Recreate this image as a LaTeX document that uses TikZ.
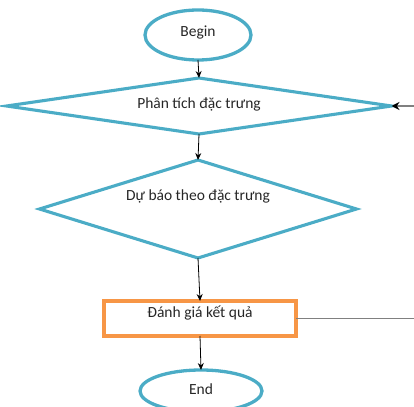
\documentclass[tikz,border=0pt]{standalone}
\usepackage{fontspec}
\setmainfont{Carlito}
\usetikzlibrary{shapes.geometric,arrows.meta}
\definecolor{accblue}{RGB}{75,172,198}
\definecolor{accorange}{RGB}{247,150,70}
\definecolor{lgray}{RGB}{128,128,128}
\begin{document}
\begin{tikzpicture}[x=1pt,y=-1pt,
  term/.style={ellipse,draw=accblue,line width=3.3pt,inner sep=0pt,outer sep=0pt},
  decide/.style={diamond,draw=accblue,line width=3.1pt,inner sep=0pt,outer sep=0pt},
  proc/.style={rectangle,draw=accorange,line width=3.1pt,inner sep=0pt,outer sep=0pt},
  lbl/.style={font=\fontsize{15.5}{17}\selectfont,text=black!85,inner sep=0pt},
  flow/.style={-{Stealth[length=7pt,width=6pt]},line width=0.8pt,black}
]
\useasboundingbox (0,0) rectangle (414,406);
\node[term,minimum width=106pt,minimum height=50pt] (begin) at (198,35) {};
\node[lbl] (tbegin) at (198,33) {Begin};
\node[decide,minimum width=385pt,minimum height=56pt] (d1) at (199,106) {};
\node[lbl] (td1) at (199,104) {Phân tích đặc trưng};
\node[decide,minimum width=317pt,minimum height=98pt] (d2) at (198,209) {};
\node[lbl] (td2) at (198,196) {Dự báo theo đặc trưng};
\node[proc,minimum width=192pt,minimum height=35pt] (eval) at (200,318.5) {};
\node[lbl] (teval) at (200,313) {Đánh giá kết quả};
\node[term,minimum width=122pt,minimum height=42pt] (end) at (201,391) {};
\node[lbl] (tend) at (201,389) {End};
\coordinate (c1) at (430,318.5);
\coordinate (c2) at (430,106);
\draw[flow] (begin.south) -- (d1.north);
\draw[flow] (d1.south) -- (d2.north);
\draw[flow] (d2.south) -- (eval.north);
\draw[flow] (eval.south) -- (end.north);
\draw[line width=1.4pt,lgray,-{Stealth[length=8pt,width=8pt,black]}] (eval.east) -- (c1) -- (c2) -- (d1.east);
\end{tikzpicture}
\end{document}
